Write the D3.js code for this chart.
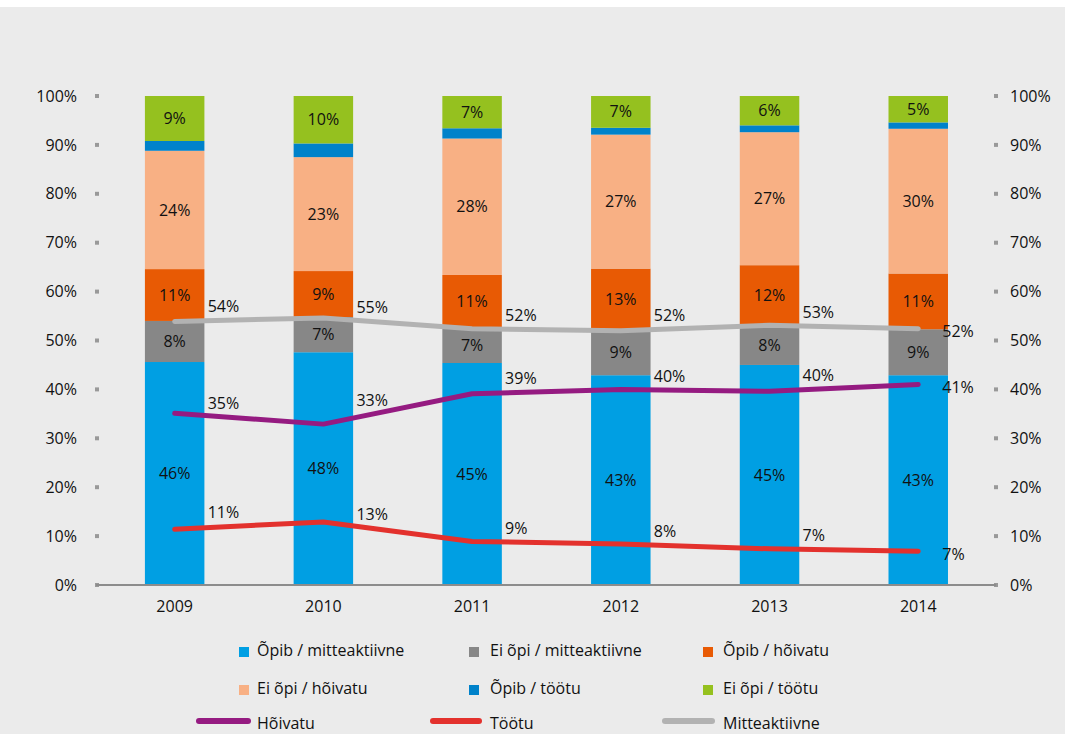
<!DOCTYPE html>
<html>
<head>
<meta charset="utf-8">
<script src="https://cdn.jsdelivr.net/npm/d3@7"></script>
<style>
  body { margin: 0; background: #fff; }
  svg text { font-family: "Open Sans", sans-serif; font-size: 16px; fill: #111; }
</style>
</head>
<body>
<svg></svg>
<script>
const years = ["2009", "2010", "2011", "2012", "2013", "2014"];

// stacked bar segments, bottom to top (percent)
const opibMitteakt   = [45.6, 47.6, 45.4, 42.9, 45.0, 42.9];
const eiOpiMitteakt  = [8.4, 7.2, 7.1, 9.2, 8.0, 9.4];
const opibHoivatu    = [10.6, 9.4, 10.9, 12.6, 12.4, 11.4];
const eiOpiHoivatu   = [24.2, 23.3, 27.9, 27.4, 27.2, 29.6];
const opibToötu      = [2.0, 2.8, 2.1, 1.4, 1.4, 1.3];
const eiOpiToötu     = [9.2, 9.7, 6.6, 6.5, 6.0, 5.4];

// lines (percent)
const hoivatu       = [35.1, 32.9, 39.1, 40.0, 39.6, 41.0];
const tootu         = [11.4, 12.9, 8.9, 8.4, 7.4, 6.9];
const mitteaktiivne = [53.9, 54.6, 52.4, 52.0, 53.1, 52.4];

const yTicks = [0, 10, 20, 30, 40, 50, 60, 70, 80, 90, 100];

const barSeries = [
  {name: "Õpib / mitteaktiivne", values: opibMitteakt, color: "#009fe3", label: true},
  {name: "Ei õpi / mitteaktiivne", values: eiOpiMitteakt, color: "#878787", label: true},
  {name: "Õpib / hõivatu", values: opibHoivatu, color: "#e85a04", label: true},
  {name: "Ei õpi / hõivatu", values: eiOpiHoivatu, color: "#f8b084", label: true},
  {name: "Õpib / töötu", values: opibToötu, color: "#0082ca", label: false},
  {name: "Ei õpi / töötu", values: eiOpiToötu, color: "#95c11f", label: true}
];
const lineSeries = [
  {name: "Hõivatu", values: hoivatu, color: "#951b81"},
  {name: "Töötu", values: tootu, color: "#e3312d"},
  {name: "Mitteaktiivne", values: mitteaktiivne, color: "#b2b2b2"}
];

const width = 1065, height = 734;
const svg = d3.select("svg").attr("width", width).attr("height", height);

svg.append("rect").attr("width", width).attr("height", height).attr("fill", "#ebebeb");
svg.append("rect").attr("width", width).attr("height", 7).attr("fill", "#ffffff");

const x = d3.scaleBand().domain(years).range([100.3, 992.6]).paddingInner(0.6).paddingOuter(0.3);
const y = d3.scaleLinear().domain([0, 100]).range([585, 96]);
const cx = d => x(d) + x.bandwidth() / 2;

// y axes: small square ticks + labels
[{tx: 97, lx: 77, anchor: "end"}, {tx: 996, lx: 1010, anchor: "start"}].forEach(side => {
  const g = svg.append("g");
  g.selectAll("rect").data(yTicks).join("rect")
    .attr("x", side.tx - 2).attr("y", d => y(d) - 2)
    .attr("width", 4).attr("height", 4).attr("fill", "#999");
  g.selectAll("text").data(yTicks).join("text")
    .attr("x", side.lx).attr("y", d => y(d))
    .attr("dy", "0.35em").attr("text-anchor", side.anchor)
    .text(d => d + "%");
});

// stacked bars
const table = years.map((yr, i) => {
  const row = {year: yr};
  barSeries.forEach(s => row[s.name] = s.values[i]);
  return row;
});
const stack = d3.stack().keys(barSeries.map(s => s.name))(table);

stack.forEach((layer, k) => {
  const s = barSeries[k];
  const g = svg.append("g");
  g.selectAll("rect").data(layer).join("rect")
    .attr("x", d => x(d.data.year))
    .attr("y", d => y(d[1]))
    .attr("width", x.bandwidth())
    .attr("height", d => y(d[0]) - y(d[1]))
    .attr("fill", s.color);
  if (s.label) {
    g.selectAll("text").data(layer).join("text")
      .attr("x", d => cx(d.data.year))
      .attr("y", d => y((d[0] + d[1]) / 2))
      .attr("dy", "0.35em")
      .attr("text-anchor", "middle")
      .text(d => Math.round(d[1] - d[0]) + "%");
  }
});

// x axis
svg.append("line").attr("x1", 96).attr("x2", 996).attr("y1", 585).attr("y2", 585)
  .attr("stroke", "#8c8c8c").attr("stroke-width", 2);
svg.append("g").selectAll("text").data(years).join("text")
  .attr("x", d => cx(d)).attr("y", 606).attr("dy", "0.35em")
  .attr("text-anchor", "middle").text(d => d);

// lines
const line = d3.line().x((d, i) => cx(years[i])).y(d => y(d));
lineSeries.forEach(s => {
  svg.append("path").attr("d", line(s.values))
    .attr("fill", "none").attr("stroke", s.color).attr("stroke-width", 5)
    .attr("stroke-linecap", "round").attr("stroke-linejoin", "round");
});

// line labels
const step = x.step();
lineSeries.forEach(s => {
  svg.append("g").selectAll("text").data(s.values).join("text")
    .attr("x", (d, i) => cx(years[i]) + (i < years.length - 1 ? 33 : 24))
    .attr("y", (d, i) => {
      if (i === years.length - 1) return y(d) + 3;
      const t = 49 / step;
      return y(d) + (y(s.values[i + 1]) - y(d)) * t - 14;
    })
    .attr("dy", "0.35em")
    .text(d => Math.round(d) + "%");
});

// legend
const colX = [[239, 257], [469, 490], [703, 723]];
const legend = svg.append("g");
barSeries.forEach((s, i) => {
  const col = i % 3, row = Math.floor(i / 3);
  const base = 656 + row * 38;
  legend.append("rect").attr("x", colX[col][0]).attr("y", base - 9)
    .attr("width", 10).attr("height", 10).attr("fill", s.color);
  legend.append("text").attr("x", colX[col][1]).attr("y", base).text(s.name);
});
const lineX = [[199, 248], [433, 479], [665, 712]];
lineSeries.forEach((s, i) => {
  legend.append("line").attr("x1", lineX[i][0]).attr("x2", lineX[i][1])
    .attr("y1", 721).attr("y2", 721)
    .attr("stroke", s.color).attr("stroke-width", 6).attr("stroke-linecap", "round");
  legend.append("text").attr("x", colX[i][1]).attr("y", 729).text(s.name);
});
</script>
</body>
</html>
